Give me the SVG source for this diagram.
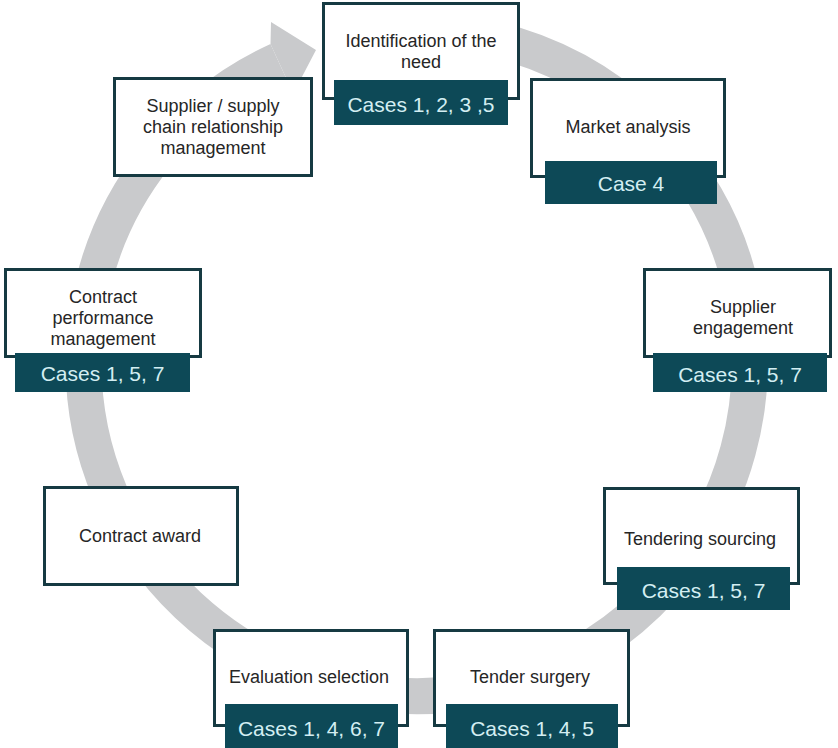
<svg xmlns="http://www.w3.org/2000/svg" width="838" height="748" viewBox="0 0 838 748">
<style>
.ring{fill:none;stroke:#c9cacc;stroke-width:36}
.head{fill:#c9cacc}
.box{fill:#ffffff;stroke:#163a42;stroke-width:3}
.case{fill:#0d4957}
.lbl{font-family:"Liberation Sans",Arial,sans-serif;font-size:18px;fill:#262626;text-anchor:middle}
.ct{font-family:"Liberation Sans",Arial,sans-serif;font-size:21px;fill:#d3eef2;text-anchor:middle}
</style>
<rect width="838" height="748" fill="#ffffff"/>
<g id="connectors">
<path class="ring" d="M 360 35 A 333 333 0 1 1 278 60.4"/>
<polygon class="head" points="270.5,44.1 271,22 316,50 293,94 285.5,76.8"/>
</g>
<g id="identification">
<rect class="box" x="323.5" y="3.5" width="195" height="95"/>
<text class="lbl" x="421" y="47">Identification of the</text>
<text class="lbl" x="421" y="68">need</text>
<rect class="case" x="334" y="80" width="174" height="45"/>
<text class="ct" x="421" y="112">Cases 1, 2, 3 ,5</text>
</g>
<g id="supplier-relationship">
<rect class="box" x="114.5" y="78.5" width="197" height="97"/>
<text class="lbl" x="213" y="112">Supplier / supply</text>
<text class="lbl" x="213" y="133">chain relationship</text>
<text class="lbl" x="213" y="154">management</text>
</g>
<g id="market-analysis">
<rect class="box" x="531.5" y="79.5" width="193" height="97"/>
<text class="lbl" x="628" y="133">Market analysis</text>
<rect class="case" x="545" y="161" width="172" height="43"/>
<text class="ct" x="631" y="191">Case 4</text>
</g>
<g id="supplier-engagement">
<rect class="box" x="644.5" y="269.5" width="186" height="87"/>
<text class="lbl" x="743" y="313">Supplier</text>
<text class="lbl" x="743" y="334">engagement</text>
<rect class="case" x="653" y="353" width="174" height="39"/>
<text class="ct" x="740" y="382">Cases 1, 5, 7</text>
</g>
<g id="contract-performance">
<rect class="box" x="5.5" y="269.5" width="195" height="87"/>
<text class="lbl" x="103" y="303">Contract</text>
<text class="lbl" x="103" y="324">performance</text>
<text class="lbl" x="103" y="345">management</text>
<rect class="case" x="15" y="353" width="175" height="39"/>
<text class="ct" x="102.5" y="381">Cases 1, 5, 7</text>
</g>
<g id="contract-award">
<rect class="box" x="44.5" y="487.5" width="193" height="97"/>
<text class="lbl" x="140" y="542">Contract award</text>
</g>
<g id="tendering-sourcing">
<rect class="box" x="604.5" y="488.5" width="194" height="95"/>
<text class="lbl" x="700" y="545">Tendering sourcing</text>
<rect class="case" x="617" y="567" width="173" height="43"/>
<text class="ct" x="703.5" y="598">Cases 1, 5, 7</text>
</g>
<g id="evaluation-selection">
<rect class="box" x="214.5" y="630.5" width="193" height="95"/>
<text class="lbl" x="309" y="683">Evaluation selection</text>
<rect class="case" x="225" y="704" width="173" height="44"/>
<text class="ct" x="311.5" y="736">Cases 1, 4, 6, 7</text>
</g>
<g id="tender-surgery">
<rect class="box" x="434.5" y="630.5" width="194" height="95"/>
<text class="lbl" x="530" y="683">Tender surgery</text>
<rect class="case" x="446" y="704" width="172" height="44"/>
<text class="ct" x="532" y="736">Cases 1, 4, 5</text>
</g>
</svg>
